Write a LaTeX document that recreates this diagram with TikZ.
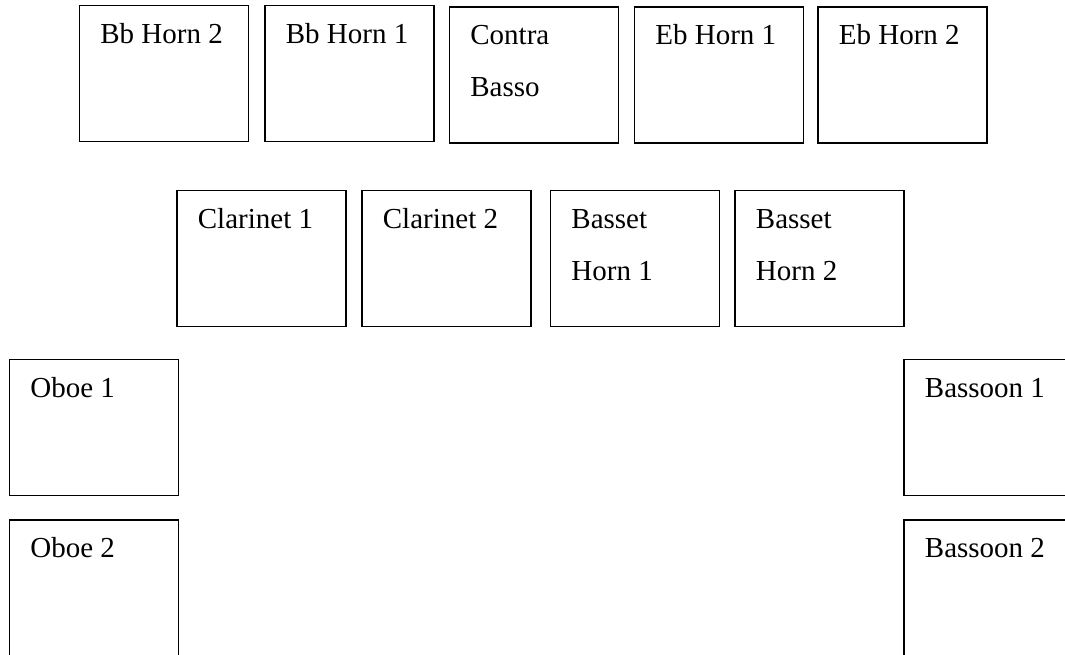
\documentclass[tikz,border=0pt]{standalone}
\usepackage{fontspec}
\setmainfont{Liberation Serif}
\begin{document}
\begin{tikzpicture}[x=0.5pt,y=-0.5pt,
  seat/.style={draw=black,line width=0.9pt,fill=white,rectangle,inner sep=0pt,
    minimum width=84.5pt,minimum height=68pt,anchor=north west},
  lbl/.style={inner sep=0pt,anchor=base west,font=\fontsize{14.5}{17}\selectfont}]
\useasboundingbox (0,0) rectangle (1065,654);
\clip (0,0) rectangle (1065,654);
% front row: horns and contrabass
\node[seat] (bbh2) at (78.5,4.5) {};
\node[seat] (bbh1) at (264,4.5) {};
\node[seat] (cb)   at (448.5,6) {};
\node[seat] (ebh1) at (633.5,6) {};
\node[seat] (ebh2) at (817,6) {};
% second row: clarinets and basset horns
\node[seat] (cl1) at (176,189.5) {};
\node[seat] (cl2) at (361,189.5) {};
\node[seat] (bh1) at (549.5,189.5) {};
\node[seat] (bh2) at (734,189.5) {};
% sides: oboes and bassoons
\node[seat] (ob1) at (8.5,358.5) {};
\node[seat] (ob2) at (8.5,519) {};
\node[seat] (bn1) at (903,358.5) {};
\node[seat] (bn2) at (903,519) {};
% labels
\node[lbl] (tbbh2) at ([xshift=10.75pt,yshift=-19.3pt]bbh2.north west) {Bb Horn 2};
\node[lbl] (tbbh1) at ([xshift=10.75pt,yshift=-19.3pt]bbh1.north west) {Bb Horn 1};
\node[lbl] (tcb1)  at ([xshift=10.75pt,yshift=-19.3pt]cb.north west) {Contra};
\node[lbl] (tcb2)  at ([xshift=10.75pt,yshift=-45.3pt]cb.north west) {Basso};
\node[lbl] (tebh1) at ([xshift=10.75pt,yshift=-19.3pt]ebh1.north west) {Eb Horn 1};
\node[lbl] (tebh2) at ([xshift=10.75pt,yshift=-19.3pt]ebh2.north west) {Eb Horn 2};
\node[lbl] (tcl1)  at ([xshift=10.75pt,yshift=-19.3pt]cl1.north west) {Clarinet 1};
\node[lbl] (tcl2)  at ([xshift=10.75pt,yshift=-19.3pt]cl2.north west) {Clarinet 2};
\node[lbl] (tbh1a) at ([xshift=10.75pt,yshift=-19.3pt]bh1.north west) {Basset};
\node[lbl] (tbh1b) at ([xshift=10.75pt,yshift=-45.3pt]bh1.north west) {Horn 1};
\node[lbl] (tbh2a) at ([xshift=10.75pt,yshift=-19.3pt]bh2.north west) {Basset};
\node[lbl] (tbh2b) at ([xshift=10.75pt,yshift=-45.3pt]bh2.north west) {Horn 2};
\node[lbl] (tob1)  at ([xshift=10.75pt,yshift=-19.3pt]ob1.north west) {Oboe 1};
\node[lbl] (tob2)  at ([xshift=10.75pt,yshift=-19.3pt]ob2.north west) {Oboe 2};
\node[lbl] (tbn1)  at ([xshift=10.75pt,yshift=-19.3pt]bn1.north west) {Bassoon 1};
\node[lbl] (tbn2)  at ([xshift=10.75pt,yshift=-19.3pt]bn2.north west) {Bassoon 2};
\end{tikzpicture}
\end{document}
